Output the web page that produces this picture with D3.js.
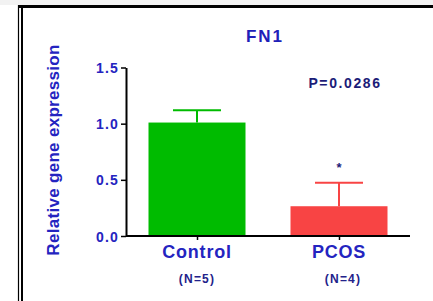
<!DOCTYPE html>
<html>
<head>
<meta charset="utf-8">
<script src="https://cdn.jsdelivr.net/npm/d3@7"></script>
<style>
  body { margin: 0; background: #fff; }
  text { font-family: "Liberation Sans", Arial, sans-serif; font-weight: bold; }
</style>
</head>
<body>
<svg id="chart"></svg>
<script>
// data
var groups = ["Control", "PCOS"];
var groupNs = ["(N=5)", "(N=4)"];
var means = [1.01, 0.265];
var errors = [0.11, 0.21];
var barColors = ["#00bb00", "#f84444"];
var yTicks = [0.0, 0.5, 1.0, 1.5];

var W = 433, H = 301;
var svg = d3.select("#chart").attr("width", W).attr("height", H);

// frame around the panel
svg.append("rect").attr("x", 0).attr("y", 0).attr("width", W).attr("height", 5).attr("fill", "#f2f2f2");
svg.append("line").attr("x1", 18).attr("x2", W).attr("y1", 6.5).attr("y2", 6.5)
    .attr("stroke", "#000").attr("stroke-width", 3);
svg.append("line").attr("x1", 18.5).attr("x2", 18.5).attr("y1", 5).attr("y2", H)
    .attr("stroke", "#000").attr("stroke-width", 1.2);
svg.append("line").attr("x1", 22).attr("x2", 22).attr("y1", 5).attr("y2", H)
    .attr("stroke", "#000").attr("stroke-width", 2);

var plotLeft = 126, plotRight = 410, plotTop = 67.5, plotBottom = 236;

var x = d3.scalePoint().domain(groups).range([plotLeft, plotRight]).padding(0.5);
var y = d3.scaleLinear().domain([0, 1.5]).range([plotBottom, plotTop]);
var barW = 97, capW = 48;

var g = svg.append("g");

// bars
g.selectAll(".bar").data(groups).enter().append("rect")
    .attr("x", d => x(d) - barW / 2)
    .attr("y", (d, i) => y(means[i]))
    .attr("width", barW)
    .attr("height", (d, i) => y(0) - y(means[i]))
    .attr("fill", (d, i) => barColors[i]);

// error bars (upper only)
g.selectAll(".err").data(groups).enter().append("line")
    .attr("x1", d => x(d)).attr("x2", d => x(d))
    .attr("y1", (d, i) => y(means[i]))
    .attr("y2", (d, i) => y(means[i] + errors[i]))
    .attr("stroke", (d, i) => barColors[i]).attr("stroke-width", 2);
g.selectAll(".cap").data(groups).enter().append("line")
    .attr("x1", d => x(d) - capW / 2).attr("x2", d => x(d) + capW / 2)
    .attr("y1", (d, i) => y(means[i] + errors[i]))
    .attr("y2", (d, i) => y(means[i] + errors[i]))
    .attr("stroke", (d, i) => barColors[i]).attr("stroke-width", 2);

// axes
var yAxis = d3.axisLeft(y).tickValues(yTicks).tickFormat(d3.format(".1f")).tickSize(5).tickSizeOuter(0);
var yG = svg.append("g").attr("transform", `translate(${plotLeft},0)`).call(yAxis);
yG.select(".domain").attr("stroke", "#000").attr("stroke-width", 2);
yG.selectAll(".tick line").attr("stroke", "#000").attr("stroke-width", 1.5);
yG.selectAll(".tick text").attr("fill", "#2424c0").attr("font-size", 14)
    .attr("font-family", "Liberation Sans, Arial, sans-serif").attr("font-weight", "bold")
    .attr("letter-spacing", 1.2).attr("x", -7).attr("dy", "0.36em");

var xAxis = d3.axisBottom(x).tickSize(4).tickSizeOuter(0).tickFormat("");
var xG = svg.append("g").attr("transform", `translate(0,${plotBottom})`).call(xAxis);
xG.select(".domain").attr("d", `M${plotLeft},0H${plotRight}`).attr("stroke", "#000").attr("stroke-width", 2);
xG.selectAll(".tick line").attr("stroke", "#000").attr("stroke-width", 1.5);

// category labels
svg.selectAll(".cat").data(groups).enter().append("text")
    .attr("x", d => x(d)).attr("y", 258)
    .attr("text-anchor", "middle").attr("font-size", 18).attr("letter-spacing", 0.8)
    .attr("fill", "#2424c0").text(d => d);
svg.selectAll(".n").data(groupNs).enter().append("text")
    .attr("x", (d, i) => x(groups[i]) + (i == 1 ? 4 : 0)).attr("y", 283)
    .attr("text-anchor", "middle").attr("font-size", 12).attr("letter-spacing", 1.2)
    .attr("fill", "#22228a").text(d => d);

// title, y label, stats
svg.append("text").attr("x", 265).attr("y", 42).attr("text-anchor", "middle")
    .attr("font-size", 17).attr("letter-spacing", 2).attr("fill", "#2020b8").text("FN1");
svg.append("text").attr("transform", "translate(59,150) rotate(-90)").attr("text-anchor", "middle")
    .attr("font-size", 17).attr("letter-spacing", 0.3).attr("fill", "#2424c0").text("Relative gene expression");
svg.append("text").attr("x", 345).attr("y", 88).attr("text-anchor", "middle")
    .attr("font-size", 14).attr("letter-spacing", 1.6).attr("fill", "#1c1c78").text("P=0.0286");
svg.append("text").attr("x", x("PCOS")).attr("y", 172).attr("text-anchor", "middle")
    .attr("font-size", 13).attr("fill", "#1c1c78").text("*");
</script>
</body>
</html>
